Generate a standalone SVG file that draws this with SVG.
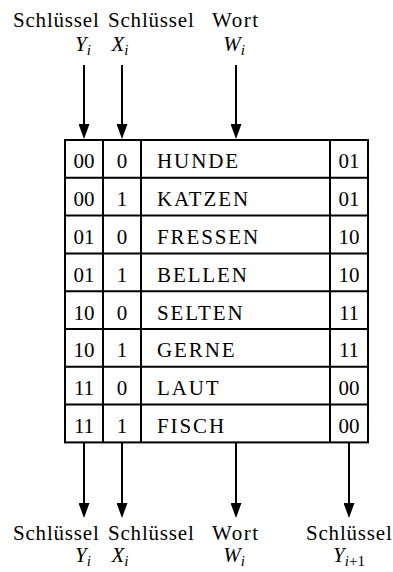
<svg xmlns="http://www.w3.org/2000/svg" width="393" height="572" viewBox="0 0 393 572" font-family="Liberation Serif, serif">
  <style>
    text { font-family: 'Liberation Serif', 'Times New Roman', serif; font-size: 21px; fill: #000; }
    .num { text-anchor: middle; }
    .word { letter-spacing: 1.9px; }
    .key { letter-spacing: 0.8px; }
    .wort { letter-spacing: 1.5px; }
    .math { font-style: italic; text-anchor: middle; }
    .sub { font-size: 15px; }
    .grid { fill: none; stroke: #000; stroke-width: 2; }
    .wire { stroke: #000; stroke-width: 2; fill: none; marker-end: url(#head); }
  </style>
  <defs>
    <marker id="head" viewBox="0 0 15 11" refX="5" refY="5.5" markerWidth="15" markerHeight="11" markerUnits="userSpaceOnUse" orient="auto">
      <path d="M0,0 L15,5.5 L0,11 z" fill="#000"/>
    </marker>
  </defs>

  <!-- input labels -->
  <g id="in-y">
    <text class="key" x="13" y="27">Schlüssel</text>
    <text class="math" x="83" y="51">Y<tspan class="sub" dy="4">i</tspan></text>
  </g>
  <g id="in-x">
    <text class="key" x="108" y="27">Schlüssel</text>
    <text class="math" x="120" y="51">X<tspan class="sub" dy="4">i</tspan></text>
  </g>
  <g id="in-w">
    <text class="wort" x="212" y="27">Wort</text>
    <text class="math" x="234" y="51">W<tspan class="sub" dy="4">i</tspan></text>
  </g>

  <!-- lookup table -->
  <g id="table">
    <rect class="grid" x="65" y="140" width="303" height="302.4"/>
    <path class="grid" d="M103,140 V442.4 M141,140 V442.4 M330,140 V442.4
      M65,177.8 H368 M65,215.6 H368 M65,253.4 H368 M65,291.2 H368
      M65,329 H368 M65,366.8 H368 M65,404.6 H368"/>
    <g id="row1">
      <text class="num" x="84" y="168.3">00</text><text class="num" x="122" y="168.3">0</text>
      <text class="word" x="157" y="168.3">HUNDE</text><text class="num" x="349" y="168.3">01</text>
    </g>
    <g id="row2">
      <text class="num" x="84" y="206.1">00</text><text class="num" x="122" y="206.1">1</text>
      <text class="word" x="157" y="206.1">KATZEN</text><text class="num" x="349" y="206.1">01</text>
    </g>
    <g id="row3">
      <text class="num" x="84" y="243.9">01</text><text class="num" x="122" y="243.9">0</text>
      <text class="word" x="157" y="243.9">FRESSEN</text><text class="num" x="349" y="243.9">10</text>
    </g>
    <g id="row4">
      <text class="num" x="84" y="281.7">01</text><text class="num" x="122" y="281.7">1</text>
      <text class="word" x="157" y="281.7">BELLEN</text><text class="num" x="349" y="281.7">10</text>
    </g>
    <g id="row5">
      <text class="num" x="84" y="319.5">10</text><text class="num" x="122" y="319.5">0</text>
      <text class="word" x="157" y="319.5">SELTEN</text><text class="num" x="349" y="319.5">11</text>
    </g>
    <g id="row6">
      <text class="num" x="84" y="357.3">10</text><text class="num" x="122" y="357.3">1</text>
      <text class="word" x="157" y="357.3">GERNE</text><text class="num" x="349" y="357.3">11</text>
    </g>
    <g id="row7">
      <text class="num" x="84" y="395.1">11</text><text class="num" x="122" y="395.1">0</text>
      <text class="word" x="157" y="395.1">LAUT</text><text class="num" x="349" y="395.1">00</text>
    </g>
    <g id="row8">
      <text class="num" x="84" y="432.9">11</text><text class="num" x="122" y="432.9">1</text>
      <text class="word" x="157" y="432.9">FISCH</text><text class="num" x="349" y="432.9">00</text>
    </g>
  </g>

  <!-- output labels -->
  <g id="out-y">
    <text class="key" x="13" y="540">Schlüssel</text>
    <text class="math" x="83" y="562">Y<tspan class="sub" dy="4">i</tspan></text>
  </g>
  <g id="out-x">
    <text class="key" x="108" y="540">Schlüssel</text>
    <text class="math" x="120" y="562">X<tspan class="sub" dy="4">i</tspan></text>
  </g>
  <g id="out-w">
    <text class="wort" x="212" y="540">Wort</text>
    <text class="math" x="234" y="562">W<tspan class="sub" dy="4">i</tspan></text>
  </g>
  <g id="out-ynext">
    <text class="key" x="306" y="540">Schlüssel</text>
    <text class="math" x="349" y="562">Y<tspan class="sub" dy="4">i<tspan font-style="normal">+1</tspan></tspan></text>
  </g>

  <!-- connectors -->
  <g id="connectors">
    <line class="wire" x1="84" y1="65" x2="84" y2="129"/>
    <line class="wire" x1="122" y1="65" x2="122" y2="129"/>
    <line class="wire" x1="236" y1="65" x2="236" y2="129"/>
    <line class="wire" x1="84" y1="443" x2="84" y2="508"/>
    <line class="wire" x1="122" y1="443" x2="122" y2="508"/>
    <line class="wire" x1="236" y1="443" x2="236" y2="508"/>
    <line class="wire" x1="349" y1="443" x2="349" y2="508"/>
  </g>
</svg>
